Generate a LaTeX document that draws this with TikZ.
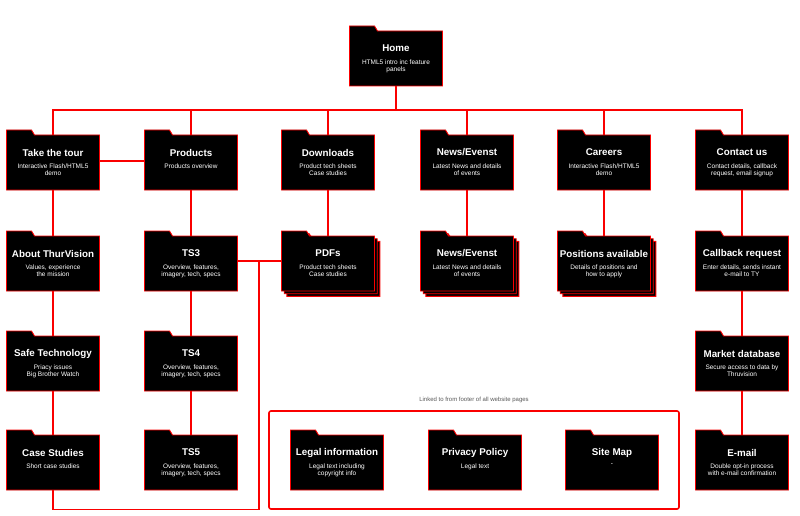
\documentclass[tikz,border=0pt]{standalone}
\usepackage{fontspec}
\setmainfont{Liberation Sans}
\definecolor{lnred}{RGB}{250,0,0}
\tikzset{
  fbody/.style={minimum width=93pt, minimum height=55pt, inner sep=0pt, outer sep=0pt},
  fline/.style={draw=lnred, fill=black, line width=0.9pt},
  ttl/.style={text=white, inner sep=0pt, font=\fontsize{9.8}{12}\selectfont\bfseries},
  subt/.style={text=white, inner sep=0pt, anchor=north, align=center, font=\fontsize{6.5}{7.5}\selectfont},
  conn/.style={draw=lnred, line width=1.5pt},
}
\newcommand\foldshape[3]{%
  \draw[fline] ({#1-46.5+#3},{#2+27.5+#3}) -- ({#1-46.5+#3},{#2-32.5+#3}) -- ({#1-21.5+#3},{#2-32.5+#3}) -- ({#1-18.5+#3},{#2-27.5+#3}) -- ({#1+46.5+#3},{#2-27.5+#3}) -- ({#1+46.5+#3},{#2+27.5+#3}) -- cycle;}
\newcommand\fold[5]{%
  \node[fbody] (#1) at (#2,#3) {};
  \foldshape{#2}{#3}{0}
  \node[ttl] (#1-t) at (#2,{#3-10}) {#4};
  \node[subt] (#1-s) at (#2,{#3+1}) {#5};}
\newcommand\stackfold[5]{%
  \foldshape{#2}{#3}{5.4}
  \foldshape{#2}{#3}{2.7}
  \fold{#1}{#2}{#3}{#4}{#5}}
\begin{document}
\begin{tikzpicture}[x=1pt,y=-1pt]
\useasboundingbox[fill=white] (0,0) rectangle (800,516);
\coordinate (bus) at (0,110);
\fold{home}{396}{58.5}{Home}{HTML5 intro inc feature\\panels}
\fold{tour}{53}{162.5}{Take the tour}{Interactive Flash/HTML5\\demo}
\fold{prod}{191}{162.5}{Products}{Products overview}
\fold{down}{328}{162.5}{Downloads}{Product tech sheets\\Case studies}
\fold{news}{467}{162.5}{News/Evenst}{Latest News and details\\of events}
\fold{care}{604}{162.5}{Careers}{Interactive Flash/HTML5\\demo}
\fold{cont}{742}{162.5}{Contact us}{Contact details, callback\\request, email signup}
\fold{about}{53}{263.5}{About ThurVision}{Values, experience\\the mission}
\fold{ts3}{191}{263.5}{TS3}{Overview, features,\\imagery, tech, specs}
\stackfold{pdfs}{328}{263.5}{PDFs}{Product tech sheets\\Case studies}
\stackfold{news2}{467}{263.5}{News/Evenst}{Latest News and details\\of events}
\stackfold{pos}{604}{263.5}{Positions available}{Details of positions and\\how to apply}
\fold{call}{742}{263.5}{Callback request}{Enter details, sends instant\\e-mail to TY}
\fold{safe}{53}{363.5}{Safe Technology}{Priacy issues\\Big Brother Watch}
\fold{ts4}{191}{363.5}{TS4}{Overview, features,\\imagery, tech, specs}
\fold{mark}{742}{363.5}{Market database}{Secure access to data by\\Thruvision}
\fold{case}{53}{462.5}{Case Studies}{Short case studies}
\fold{ts5}{191}{462.5}{TS5}{Overview, features,\\imagery, tech, specs}
\fold{mail}{742}{462.5}{E-mail}{Double opt-in process\\with e-mail confirmation}
\fold{legal}{337}{462.5}{Legal information}{Legal text including\\copyright info}
\fold{priv}{475}{462.5}{Privacy Policy}{Legal text}
\fold{site}{612}{462.5}{Site Map}{-}
% footer box
\node[draw=lnred, line width=1.6pt, rounded corners=2pt, minimum width=410pt, minimum height=98pt, inner sep=0pt] (footer) at (474,460) {};
\node[text=black!65, font=\fontsize{6}{7}\selectfont, inner sep=0pt] (footer-l) at (474,400) {Linked to from footer of all website pages};
% connectors
\draw[conn] (home.south) -- (home.south |- bus);
\draw[conn] (tour.north) -- (tour.north |- bus) -- (cont.north |- bus) -- (cont.north);
\foreach \n in {prod,down,news,care} \draw[conn] (\n.north) -- (\n.north |- bus);
\draw[conn] ([yshift=1.5pt]tour.east) -- ([yshift=1.5pt]prod.west);
\draw[conn] (tour.south) -- (about.north);
\draw[conn] (about.south) -- (safe.north);
\draw[conn] (safe.south) -- (case.north);
\draw[conn] (prod.south) -- (ts3.north);
\draw[conn] (ts3.south) -- (ts4.north);
\draw[conn] (ts4.south) -- (ts5.north);
\draw[conn] (down.south) -- (pdfs.north);
\draw[conn] (news.south) -- (news2.north);
\draw[conn] (care.south) -- (pos.north);
\draw[conn] (cont.south) -- (call.north);
\draw[conn] (call.south) -- (mark.north);
\draw[conn] (mark.south) -- (mail.north);
\draw[conn] ([yshift=2.5pt]ts3.east) -- ([yshift=2.5pt]pdfs.west);
\coordinate (jn) at (259,261);
\draw[conn] (case.south) -- ++(0,19.5) -| (jn);
\end{tikzpicture}
\end{document}
